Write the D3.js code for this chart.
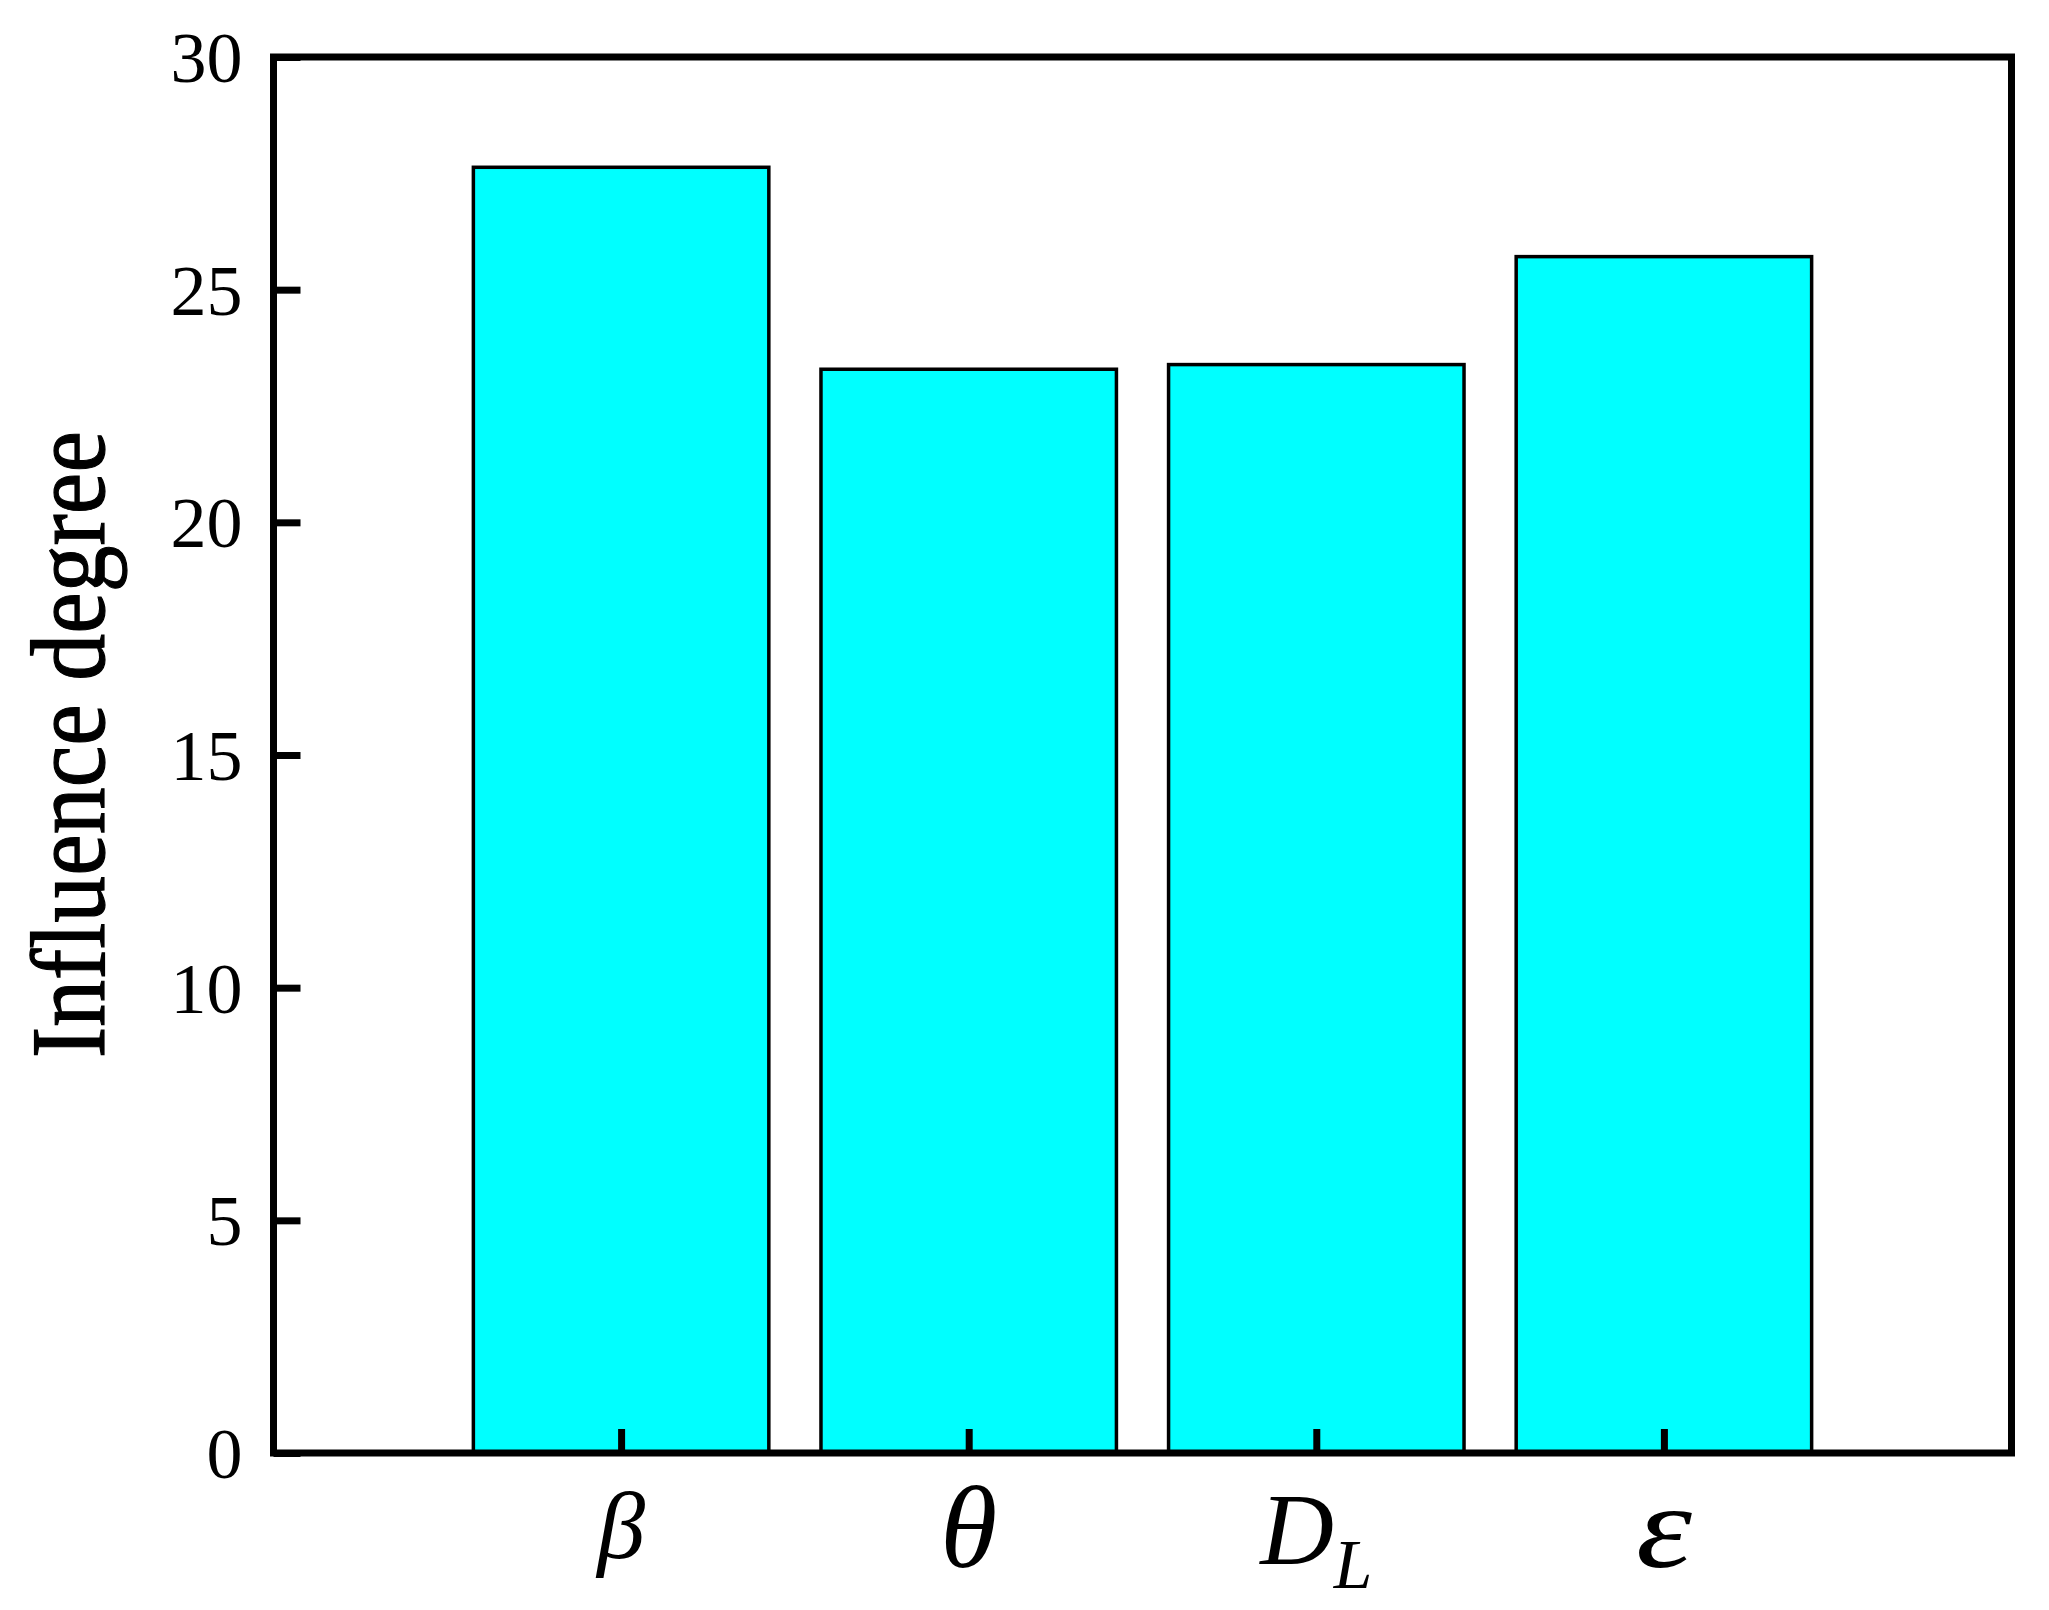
<!DOCTYPE html>
<html>
<head>
<meta charset="utf-8">
<script src="https://cdn.jsdelivr.net/npm/d3@7"></script>
<style>
  html, body { margin: 0; padding: 0; background: #ffffff; }
  svg { display: block; }
</style>
</head>
<body>
<svg id="chart" width="2049" height="1610"></svg>
<script>
// ---- data ----
const categories = ["β", "θ", "D_L", "ε"];
const categoryPositions = [1, 2, 3, 4];
const values = [27.63, 23.29, 23.39, 25.71];
const yTickValues = [0, 5, 10, 15, 20, 25, 30];
const yTitle = "Influence degree";

// ---- styling (per-label glyph sizing to mimic the original math font) ----
const labelStyle = [
  { size: 96,  baseline: 1558, stretch: null },
  { size: 116, baseline: 1567, stretch: null },
  { size: 102, baseline: 1564, stretch: null },
  { size: 118, baseline: 1567, stretch: 56 }
];

// ---- layout ----
const plot = { left: 273.5, right: 2011.5, top: 57, bottom: 1453 };
const FONT = "'Liberation Serif', 'Times New Roman', serif";

const svg = d3.select("#chart");

const x = d3.scaleLinear().domain([0, 5]).range([plot.left, plot.right]);
const y = d3.scaleLinear().domain([0, 30]).range([plot.bottom, plot.top]);

const step = x(1) - x(0);
const barW = step * 0.85;

// bars
svg.append("g").selectAll("rect")
  .data(values)
  .join("rect")
  .attr("x", (d, i) => x(categoryPositions[i]) - barW / 2)
  .attr("y", d => y(d))
  .attr("width", barW)
  .attr("height", d => y(0) - y(d))
  .attr("fill", "#00ffff")
  .attr("stroke", "#000")
  .attr("stroke-width", 3.5);

// y axis (inward ticks)
const yAxis = d3.axisLeft(y)
  .tickValues(yTickValues)
  .tickFormat(d3.format("d"))
  .tickSizeInner(-27)
  .tickSizeOuter(0)
  .tickPadding(31);

const gy = svg.append("g")
  .attr("transform", `translate(${plot.left},0)`)
  .call(yAxis);
gy.select(".domain").remove();
gy.selectAll(".tick line").attr("stroke", "#000").attr("stroke-width", 7);
gy.selectAll(".tick text")
  .attr("font-family", FONT)
  .attr("font-size", 72)
  .attr("fill", "#000")
  .attr("dy", "0.34em");

// x axis (inward ticks)
const xAxis = d3.axisBottom(x)
  .tickValues(categoryPositions)
  .tickFormat("")
  .tickSizeInner(-24)
  .tickSizeOuter(0);

const gx = svg.append("g")
  .attr("transform", `translate(0,${plot.bottom})`)
  .call(xAxis);
gx.select(".domain").remove();
gx.selectAll(".tick line").attr("stroke", "#000").attr("stroke-width", 7);

// x category labels (italic, with subscript)
const xl = svg.append("g")
  .attr("font-family", FONT)
  .attr("font-style", "italic")
  .attr("fill", "#000")
  .attr("text-anchor", "middle");

categories.forEach((c, i) => {
  const st = labelStyle[i];
  const t = xl.append("text")
    .attr("x", x(categoryPositions[i]))
    .attr("y", st.baseline)
    .attr("font-size", st.size);
  if (c.includes("_")) {
    const [base, sub] = c.split("_");
    t.append("tspan").text(base);
    t.append("tspan").attr("font-size", st.size * 0.68).attr("dy", 24).text(sub);
  } else {
    t.text(c);
  }
  if (st.stretch) {
    t.attr("textLength", st.stretch).attr("lengthAdjust", "spacingAndGlyphs");
  }
});

// frame
svg.append("rect")
  .attr("x", plot.left)
  .attr("y", plot.top)
  .attr("width", plot.right - plot.left)
  .attr("height", plot.bottom - plot.top)
  .attr("fill", "none")
  .attr("stroke", "#000")
  .attr("stroke-width", 7);

// y title
svg.append("text")
  .attr("transform", `translate(104,${(431 + 1058) / 2}) rotate(-90)`)
  .attr("text-anchor", "middle")
  .attr("font-family", FONT)
  .attr("font-size", 106)
  .attr("textLength", 627)
  .attr("lengthAdjust", "spacingAndGlyphs")
  .attr("fill", "#000")
  .attr("stroke", "#000")
  .attr("stroke-width", 1.2)
  .text(yTitle);
</script>
</body>
</html>
